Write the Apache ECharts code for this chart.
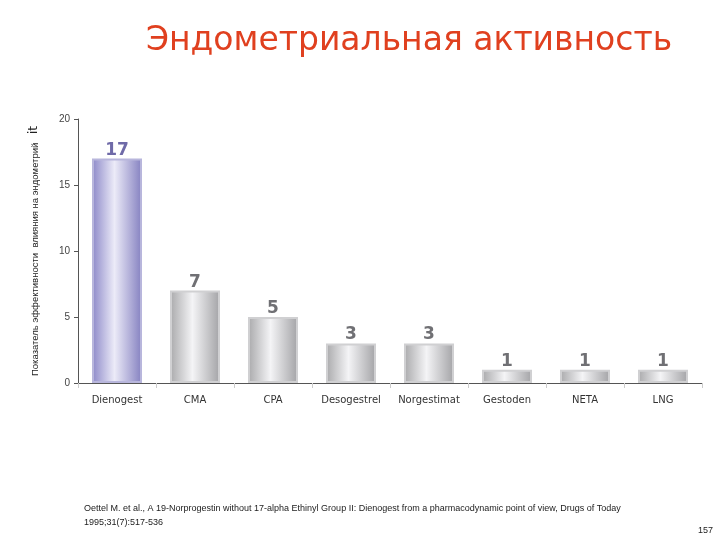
<!DOCTYPE html>
<html lang="ru">
<head>
  <meta charset="UTF-8">
  <title>Эндометриальная активность</title>
  <script src="https://cdn.jsdelivr.net/npm/echarts@6/dist/echarts.min.js"></script>
  <style>
    html, body { margin: 0; padding: 0; background: #fff; }
    #chart { width: 720px; height: 540px; }
  </style>
</head>
<body>
  <div id="chart"></div>
  <script>
    // данные
    var categories = ['Dienogest', 'CMA', 'CPA', 'Desogestrel', 'Norgestimat', 'Gestoden', 'NETA', 'LNG'];
    var values = [17, 7, 5, 3, 3, 1, 1, 1];
    var yTicks = [0, 5, 10, 15, 20];

    var grey = { type: 'linear', x: 0, y: 0, x2: 1, y2: 0, colorStops: [
      { offset: 0, color: '#a9a9ab' }, { offset: 0.45, color: '#f4f4f6' }, { offset: 1, color: '#a3a3a6' }] };
    var violet = { type: 'linear', x: 0, y: 0, x2: 1, y2: 0, colorStops: [
      { offset: 0, color: '#8c88c8' }, { offset: 0.45, color: '#ecebf8' }, { offset: 1, color: '#8480c0' }] };

    var chart = echarts.init(document.getElementById('chart'));
    chart.setOption({
      animation: false,
      title: {
        text: 'Эндометриальная активность',
        left: 404, top: 20, textAlign: 'center',
        textStyle: { color: '#e0401f', fontSize: 33, fontWeight: 'normal', fontFamily: 'DejaVu Sans' }
      },
      graphic: [
        { type: 'text', x: 28, y: 134, rotation: Math.PI / 2,
          style: { text: 'it', fontSize: 12, fill: '#222', fontFamily: 'DejaVu Sans' } },
        { type: 'text', x: 30, y: 376, rotation: Math.PI / 2,
          style: { text: 'Показатель эффективности  влияния на эндометрий', fontSize: 9.5, fill: '#222', fontFamily: 'Liberation Sans' } },
        { type: 'text', left: 84, top: 502,
          style: { text: 'Oettel M. et al., A 19-Norprogestin without 17-alpha Ethinyl Group II: Dienogest from a pharmacodynamic point of view, Drugs of Today\n1995;31(7):517-536',
            fontSize: 9, lineHeight: 14, fill: '#222', fontFamily: 'Liberation Sans' } },
        { type: 'text', left: 698, top: 526,
          style: { text: '157', fontSize: 9, fill: '#222', fontFamily: 'Liberation Sans' } }
      ],
      grid: { left: 78, right: 18, top: 119, bottom: 157 },
      xAxis: {
        type: 'category', data: categories,
        axisLine: { lineStyle: { color: '#555' } },
        axisTick: { show: true, length: 5, lineStyle: { color: '#ccc' } },
        axisLabel: { interval: 0, color: '#333', fontSize: 10, margin: 12, fontFamily: 'DejaVu Sans' }
      },
      yAxis: {
        type: 'value', min: 0, max: 20, interval: 5,
        axisLine: { show: true, lineStyle: { color: '#555' } },
        axisTick: { show: true, length: 4 },
        splitLine: { show: false },
        axisLabel: { color: '#444', fontSize: 10, formatter: function (v) { return yTicks.indexOf(v) >= 0 ? v : ''; } }
      },
      series: [{
        type: 'bar', barWidth: 50,
        data: values.map(function (v, i) {
          return { value: v,
            itemStyle: { color: i === 0 ? violet : grey, borderColor: i === 0 ? '#b8b6dc' : '#d0d0d2', borderWidth: 2 },
            label: { color: i === 0 ? '#6f6aa8' : '#707074' } };
        }),
        label: {
          show: true, position: 'top', distance: 0, fontSize: 17, fontWeight: 'bold',
          fontFamily: 'DejaVu Sans'
        },
        emphasis: { disabled: true }
      }]
    });
  </script>
</body>
</html>
